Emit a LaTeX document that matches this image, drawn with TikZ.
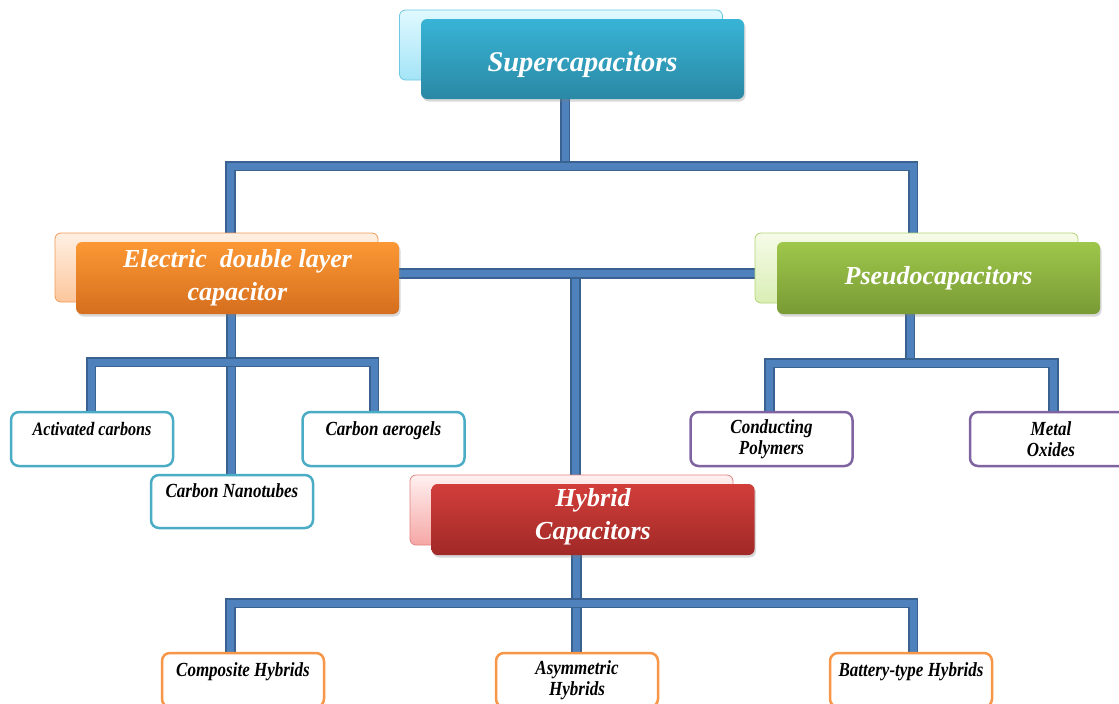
\documentclass[tikz,border=0pt]{standalone}
\usepackage{fontspec}
\setmainfont{Liberation Serif}
\newfontfamily\leaffont[FakeStretch=0.85]{Liberation Serif}
\usetikzlibrary{shadows,backgrounds,calc}
\definecolor{barin}{HTML}{4F81BD}
\definecolor{barout}{HTML}{3A6290}
\definecolor{scT}{HTML}{38B4D6}
\definecolor{scD}{HTML}{2A88A4}
\definecolor{scBa}{HTML}{E0F9FF}
\definecolor{scBb}{HTML}{A4E4F6}
\definecolor{scBd}{HTML}{6CC7E4}
\definecolor{edT}{HTML}{FC9834}
\definecolor{edD}{HTML}{D56E1E}
\definecolor{edBa}{HTML}{FFF0E3}
\definecolor{edBb}{HTML}{FCC69C}
\definecolor{edBd}{HTML}{F29A55}
\definecolor{psT}{HTML}{9EC74B}
\definecolor{psD}{HTML}{799A35}
\definecolor{psBa}{HTML}{F6FBE8}
\definecolor{psBb}{HTML}{D9EEB5}
\definecolor{psBd}{HTML}{B2D474}
\definecolor{hyT}{HTML}{D23E3A}
\definecolor{hyD}{HTML}{A02927}
\definecolor{hyBa}{HTML}{FFF0F0}
\definecolor{hyBb}{HTML}{F5A7A5}
\definecolor{hyBd}{HTML}{E08483}
\definecolor{leafA}{HTML}{4BACC6}
\definecolor{leafB}{HTML}{8064A2}
\definecolor{leafC}{HTML}{F79646}
\tikzset{
  bar/.style={line width=7pt, draw=barin, line join=miter, preaction={draw=barout, line width=10.5pt}},
  backbox/.style={rectangle, rounded corners=6pt, minimum width=323pt, inner sep=0pt, line width=0.8pt},
  mainbox/.style={rectangle, rounded corners=6pt, minimum width=323pt, inner sep=0pt, text=white,
    font=\fontsize{26}{33}\selectfont\bfseries\itshape, align=center,
    drop shadow={opacity=0.3, shadow xshift=1.5pt, shadow yshift=-2.5pt}},
  leafbox/.style={rectangle, rounded corners=8pt, minimum width=162pt, minimum height=54pt, inner sep=0pt,
    line width=2.5pt, fill=white, align=center, text=black,
    font=\leaffont\fontsize{20}{21}\selectfont\bfseries\itshape}
}
\begin{document}
\begin{tikzpicture}[x=1pt,y=-1pt]
\useasboundingbox (0,0) rectangle (1119,704);
\clip (0,0) rectangle (1119,704);
% main boxes
\node[backbox, top color=scBa, bottom color=scBb, draw=scBd, minimum height=70pt] (scB) at (561,45) {};
\node[mainbox, top color=scT, bottom color=scD, minimum height=80pt] (sc) at (582.5,59) {\raisebox{-6pt}[\height][\depth]{\fontsize{28.5}{33}\selectfont Supercapacitors}};
\node[backbox, top color=edBa, bottom color=edBb, draw=edBd, minimum height=69pt] (edB) at (216.5,267.5) {};
\node[mainbox, top color=edT, bottom color=edD, minimum height=72pt] (ed) at (237.5,278) {Electric\ \ double layer\\capacitor};
\node[backbox, top color=psBa, bottom color=psBb, draw=psBd, minimum height=70pt] (psB) at (916.5,268) {};
\node[mainbox, top color=psT, bottom color=psD, minimum height=72pt] (ps) at (938.5,278) {Pseudocapacitors};
\node[backbox, top color=hyBa, bottom color=hyBb, draw=hyBd, minimum height=70pt] (hyB) at (571.5,510) {};
\node[mainbox, top color=hyT, bottom color=hyD, minimum height=71pt] (hy) at (593,519.5) {\raisebox{3pt}[\height][\depth]{\parbox{300pt}{\centering Hybrid\\Capacitors}}};
% leaves
\node[leafbox, draw=leafA] (ac) at (92,439) {\fontsize{19}{21}\selectfont Activated carbons\\~};
\node[leafbox, draw=leafA] (ca) at (383.5,439) {Carbon aerogels\\~};
\node[leafbox, draw=leafA, minimum height=53pt] (cnt) at (232,501.5) {Carbon Nanotubes\\~};
\node[leafbox, draw=leafB] (cp) at (771.5,439) {Conducting\\Polymers};
\node[leafbox, draw=leafB] (mo) at (1051,439) {Metal\\Oxides};
\node[leafbox, draw=leafC] (comp) at (243,680) {Composite Hybrids\\~};
\node[leafbox, draw=leafC] (asy) at (577,680) {Asymmetric\\Hybrids};
\node[leafbox, draw=leafC] (bat) at (911,680) {Battery-type Hybrids\\~};
% junction points
\coordinate (t0) at (565,166);
\coordinate (t1) at (230.5,166);
\coordinate (t2) at (913,166);
\coordinate (m0) at (575.5,273.5);
\coordinate (e0) at (231,362);
\coordinate (p0) at (910,363);
\coordinate (h0) at (576.5,603);
\begin{scope}[on background layer]
  % stems
  \draw[bar] (t0 |- sc.south) -- (t0);
  \draw[bar] (m0) -- (m0 |- hyB.north);
  \draw[bar] (e0 |- ed.south) -- (e0 |- cnt.north);
  \draw[bar] (p0 |- ps.south) -- (p0);
  \draw[bar] (h0 |- hy.south) -- (h0 |- asy.north);
  % bars
  \draw[bar] (t1 |- edB.north) -- (t1) -- (t2) -- (t2 |- psB.north);
  \draw[bar] (m0 -| ed.east) -- (m0 -| psB.west);
  \draw[bar] ([xshift=-1pt]ac.north) |- (e0) -| ([xshift=-9.5pt]ca.north);
  \draw[bar] ([xshift=-2pt]cp.north) |- (p0) -| ([xshift=2.5pt]mo.north);
  \draw[bar] ([xshift=-12.5pt]comp.north) |- (h0) -| ([xshift=2pt]bat.north);
\end{scope}
\end{tikzpicture}
\end{document}
